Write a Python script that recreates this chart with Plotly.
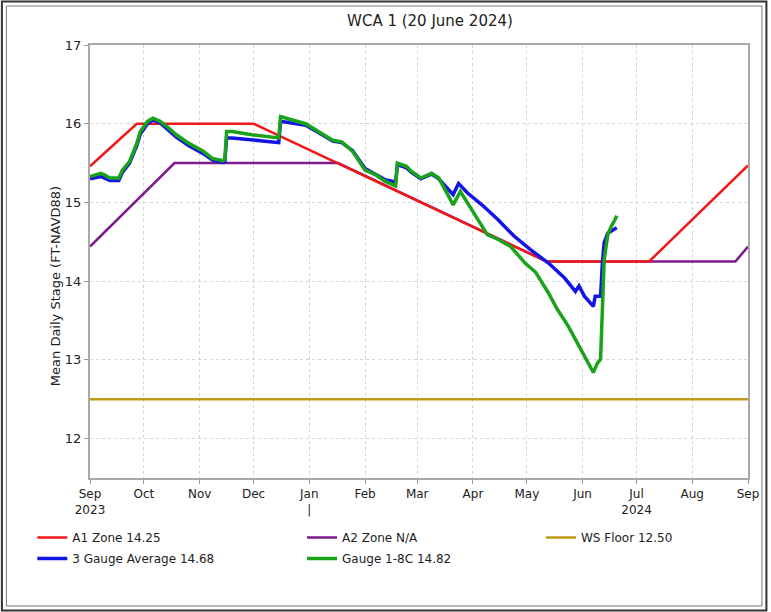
import plotly.graph_objects as go

# ---------------- data ----------------
a1_dates = ["2023-09-01", "2023-09-27", "2023-12-01", "2024-05-12", "2024-07-08", "2024-09-01"]
a1_vals = [15.46, 16.0, 16.0, 14.25, 14.25, 15.47]

a2_dates = ["2023-09-01", "2023-10-18", "2024-01-17", "2024-05-12", "2024-08-25", "2024-09-01"]
a2_vals = [14.44, 15.5, 15.5, 14.25, 14.25, 14.44]

ws_dates = ["2023-09-01", "2024-09-01"]
ws_vals = [12.5, 12.5]

avg_dates = ["2023-09-01", "2023-09-07", "2023-09-12", "2023-09-17", "2023-09-19", "2023-09-23",
             "2023-09-27", "2023-09-29", "2023-10-03", "2023-10-06", "2023-10-10", "2023-10-14",
             "2023-10-19", "2023-10-26", "2023-11-03", "2023-11-08", "2023-11-14", "2023-11-15",
             "2023-11-16", "2023-11-19", "2023-11-30", "2023-12-15", "2023-12-16", "2023-12-22",
             "2023-12-30", "2024-01-06", "2024-01-14", "2024-01-19", "2024-01-25", "2024-02-01",
             "2024-02-07", "2024-02-12", "2024-02-18", "2024-02-19", "2024-02-24", "2024-02-27",
             "2024-03-03", "2024-03-09", "2024-03-13", "2024-03-18", "2024-03-21", "2024-03-24",
             "2024-03-29", "2024-04-06", "2024-04-15", "2024-04-24", "2024-05-03", "2024-05-13",
             "2024-05-22", "2024-05-28", "2024-05-30", "2024-06-02", "2024-06-07", "2024-06-08",
             "2024-06-11", "2024-06-12", "2024-06-13", "2024-06-15", "2024-06-18", "2024-06-20"]
avg_vals = [15.30, 15.33, 15.28, 15.28, 15.38, 15.50,
            15.72, 15.87, 16.00, 16.05, 16.01, 15.93,
            15.83, 15.72, 15.62, 15.54, 15.51, 15.52,
            15.82, 15.82, 15.79, 15.76, 16.03, 16.01,
            15.98, 15.89, 15.78, 15.76, 15.66, 15.43,
            15.36, 15.29, 15.26, 15.48, 15.44, 15.38,
            15.30, 15.36, 15.30, 15.18, 15.10, 15.24,
            15.12, 14.97, 14.78, 14.57, 14.40, 14.23,
            14.04, 13.87, 13.94, 13.81, 13.68, 13.81,
            13.81, 14.23, 14.49, 14.61, 14.65, 14.68]

g18c_dates = ["2023-09-01", "2023-09-07", "2023-09-09", "2023-09-12", "2023-09-17", "2023-09-19",
              "2023-09-23", "2023-09-27", "2023-09-29", "2023-10-03", "2023-10-06", "2023-10-10",
              "2023-10-14", "2023-10-19", "2023-10-26", "2023-11-03", "2023-11-08", "2023-11-14",
              "2023-11-15", "2023-11-16", "2023-11-19", "2023-11-30", "2023-12-15", "2023-12-16",
              "2023-12-22", "2023-12-30", "2024-01-06", "2024-01-14", "2024-01-19", "2024-01-25",
              "2024-02-01", "2024-02-07", "2024-02-12", "2024-02-18", "2024-02-19", "2024-02-24",
              "2024-02-27", "2024-03-03", "2024-03-09", "2024-03-13", "2024-03-18", "2024-03-21",
              "2024-03-25", "2024-03-29", "2024-04-04", "2024-04-09", "2024-04-15", "2024-04-22",
              "2024-04-30", "2024-05-06", "2024-05-13", "2024-05-18", "2024-05-24", "2024-05-29",
              "2024-06-02", "2024-06-05", "2024-06-07", "2024-06-09", "2024-06-11", "2024-06-12",
              "2024-06-13", "2024-06-15", "2024-06-17", "2024-06-19", "2024-06-20"]
g18c_vals = [15.33, 15.37, 15.35, 15.31, 15.31, 15.41,
             15.52, 15.75, 15.90, 16.03, 16.07, 16.03,
             15.96, 15.86, 15.75, 15.65, 15.56, 15.53,
             15.55, 15.90, 15.90, 15.86, 15.82, 16.09,
             16.05, 16.00, 15.90, 15.79, 15.77, 15.65,
             15.41, 15.35, 15.27, 15.21, 15.50, 15.46,
             15.39, 15.31, 15.37, 15.31, 15.10, 14.97,
             15.14, 14.99, 14.78, 14.59, 14.53, 14.44,
             14.23, 14.11, 13.85, 13.64, 13.43, 13.22,
             13.05, 12.92, 12.84, 12.95, 13.01, 13.64,
             14.27, 14.59, 14.70, 14.78, 14.83]

tick_vals = ["2023-09-01", "2023-10-01", "2023-11-01", "2023-12-01", "2024-01-01", "2024-02-01",
             "2024-03-01", "2024-04-01", "2024-05-01", "2024-06-01", "2024-07-01", "2024-08-01",
             "2024-09-01"]
tick_text = ["Sep<br>2023", "Oct", "Nov", "Dec", "Jan<br>|", "Feb", "Mar", "Apr", "May", "Jun",
             "Jul<br>2024", "Aug", "Sep"]

# ---------------- figure ----------------
FONT = "DejaVu Sans"
W, H = 771, 612
ML, MR, MT, MB = 90, 20, 45, 134
PW, PH = W - ML - MR, H - MT - MB


def px_x(p):
    return (p - ML) / PW


def px_y(p):
    return (H - MB - p) / PH


fig = go.Figure()
fig.add_trace(go.Scatter(x=a2_dates, y=a2_vals, mode="lines", name="A2 Zone N/A",
                         line=dict(color="#7d1a8c", width=2.5), legend="legend2", legendgroup="a2"))
fig.add_trace(go.Scatter(x=a1_dates, y=a1_vals, mode="lines", name="A1 Zone 14.25",
                         line=dict(color="#f01818", width=2.5), legend="legend", legendgroup="a1"))
fig.add_trace(go.Scatter(x=ws_dates, y=ws_vals, mode="lines", name="WS Floor 12.50",
                         line=dict(color="#bf9a16", width=2.5), legend="legend3", legendgroup="ws"))
fig.add_trace(go.Scatter(x=avg_dates, y=avg_vals, mode="lines", name="3 Gauge Average 14.68",
                         line=dict(color="#1414e6", width=3.5), legend="legend", legendgroup="avg"))
fig.add_trace(go.Scatter(x=g18c_dates, y=g18c_vals, mode="lines", name="Gauge 1-8C 14.82",
                         line=dict(color="#19a319", width=3.5), legend="legend2", legendgroup="g18"))

legend_common = dict(xanchor="left", yanchor="top", orientation="v", bgcolor="rgba(0,0,0,0)",
                     borderwidth=0, font=dict(family=FONT, size=12, color="#222"),
                     tracegroupgap=2, itemwidth=30)
leg_y = px_y(523)

fig.update_layout(
    width=W, height=H, autosize=False,
    margin=dict(l=ML, r=MR, t=MT, b=MB),
    paper_bgcolor="white", plot_bgcolor="white",
    title=dict(text="WCA 1 (20 June 2024)", x=430 / W, xanchor="center", xref="container",
               y=1 - 21 / H, yanchor="middle", yref="container",
               font=dict(family=FONT, size=15, color="#222")),
    legend=dict(x=px_x(32), y=leg_y, **legend_common),
    legend2=dict(x=px_x(303), y=leg_y, **legend_common),
    legend3=dict(x=px_x(543), y=leg_y, **legend_common),
    xaxis=dict(type="date", range=["2023-09-01", "2024-09-01"], tickvals=tick_vals, ticktext=tick_text,
               showgrid=True, gridcolor="#d4d4d4", griddash="dot", gridwidth=1,
               showline=True, linecolor="#a8a8a8", linewidth=2, mirror=True,
               ticks="outside", ticklen=4, tickcolor="#999", tickwidth=1,
               tickfont=dict(family=FONT, size=12, color="#222"), zeroline=False),
    yaxis=dict(range=[11.5, 17], tickvals=[12, 13, 14, 15, 16, 17],
               showgrid=True, gridcolor="#d4d4d4", griddash="dot", gridwidth=1,
               showline=True, linecolor="#a8a8a8", linewidth=2, mirror=True,
               ticks="outside", ticklen=4, tickcolor="#999", tickwidth=1,
               tickfont=dict(family=FONT, size=13, color="#222"), zeroline=False),
    showlegend=True,
)

# y-axis label, placed where the reference puts it (slightly below the plot centre)
fig.add_annotation(text="Mean Daily Stage (FT-NAVD88)", textangle=-90, showarrow=False,
                   xref="paper", yref="paper", x=px_x(55), y=px_y(286),
                   xanchor="center", yanchor="middle",
                   font=dict(family=FONT, size=13, color="#222"))

# outer double frame around the whole picture
fig.add_shape(type="rect", xref="paper", yref="paper",
              x0=px_x(1.5), x1=px_x(769.5), y0=px_y(610.5), y1=px_y(1.5),
              line=dict(color="#333333", width=2), fillcolor="rgba(0,0,0,0)", layer="above")
fig.add_shape(type="rect", xref="paper", yref="paper",
              x0=px_x(6), x1=px_x(765), y0=px_y(606), y1=px_y(6),
              line=dict(color="#777777", width=1), fillcolor="rgba(0,0,0,0)", layer="above")

fig.write_html("out.html", config={"displayModeBar": False},
               post_script="document.body.style.margin='0';")
